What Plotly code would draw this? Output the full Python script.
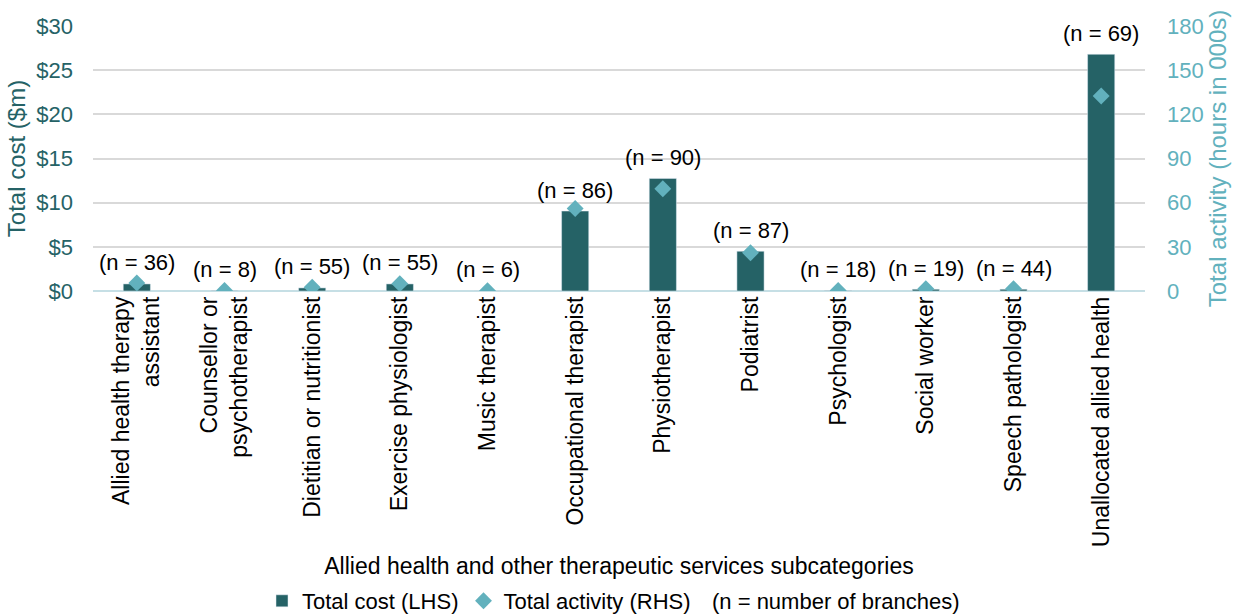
import plotly.graph_objects as go

# Subcategories along the x axis
categories = [
    "Allied health therapy<br>assistant",
    "Counsellor or<br>psychotherapist",
    "Dietitian or nutritionist",
    "Exercise physiologist",
    "Music therapist",
    "Occupational therapist",
    "Physiotherapist",
    "Podiatrist",
    "Psychologist",
    "Social worker",
    "Speech pathologist",
    "Unallocated allied health",
]
# Total cost, $ millions (left axis)
total_cost_m = [0.8, 0.05, 0.35, 0.8, 0.02, 9.05, 12.75, 4.5, 0.05, 0.2, 0.2, 26.8]
# Total activity, thousands of hours (right axis)
total_activity_k = [5.5, 0.3, 2.5, 5.0, 0.2, 56.0, 69.5, 26.0, 0.3, 1.5, 1.5, 132.5]
# Number of branches per subcategory
branch_counts = [36, 8, 55, 55, 6, 86, 90, 87, 18, 19, 44, 69]

cost_ticks = [0, 5, 10, 15, 20, 25, 30]
cost_tick_text = ["$" + str(v) for v in cost_ticks]
activity_ticks = [0, 30, 60, 90, 120, 150, 180]

W, H = 1241, 615
ML, MR, MT, MB = 93, 96, 26, 324
PW, PH = W - ML - MR, H - MT - MB

BAR = "#256266"
DIAMOND = "#62B1BD"
FONT = "Liberation Sans, Arial, sans-serif"
FS = 22        # value labels, y tick labels, legend
FS_X = 23      # category labels and x title
FS_TITLE = 24  # y axis titles

fig = go.Figure()
fig.add_trace(go.Bar(
    x=categories, y=total_cost_m, name="Total cost (LHS)",
    marker=dict(color=BAR), yaxis="y",
))
fig.add_trace(go.Scatter(
    x=categories, y=total_activity_k, name="Total activity (RHS)",
    mode="markers", yaxis="y2",
    marker=dict(symbol="diamond", size=13, color=DIAMOND),
))

# "(n = ...)" labels above each bar
for cat, cost, n in zip(categories, total_cost_m, branch_counts):
    fig.add_annotation(
        x=cat, y=cost, xref="x", yref="y", yanchor="middle",
        yshift=21, text=f"(n = {n})", showarrow=False,
        font=dict(size=FS, color="#000000", family=FONT),
    )

# note at the end of the legend row
fig.add_annotation(
    xref="paper", yref="paper",
    x=(710 - ML) / PW, y=(H - MB - 601) / PH,
    xanchor="left", yanchor="middle", showarrow=False,
    text="(n = number of branches)",
    font=dict(size=FS, color="#000000", family=FONT),
)

fig.update_layout(
    width=W, height=H,
    margin=dict(l=ML, r=MR, t=MT, b=MB, autoexpand=False),
    paper_bgcolor="white", plot_bgcolor="white",
    font=dict(family=FONT, size=FS, color="#000000"),
    bargap=0.69,
    showlegend=True,
    legend=dict(
        orientation="h", xref="container", yref="container",
        x=262 / W, y=1 - 601 / H, xanchor="left", yanchor="middle",
        font=dict(size=FS, family=FONT, color="#000000"),
        itemwidth=30, tracegroupgap=0, bgcolor="rgba(0,0,0,0)",
    ),
    xaxis=dict(
        range=[-0.5, len(categories) - 0.5],
        tickangle=-90, showgrid=False, showline=False, ticks="",
        tickfont=dict(size=FS_X, color="#000000"),
        title=dict(text="Allied health and other therapeutic services subcategories",
                   font=dict(size=FS_X, color="#000000"), standoff=11),
        automargin=False,
    ),
    yaxis=dict(
        range=[0, 30], tickvals=cost_ticks, ticktext=cost_tick_text,
        showgrid=True, gridcolor="#D9D9D9", gridwidth=1.5,
        zeroline=True, zerolinecolor="#C6DFE5", zerolinewidth=1.5,
        showline=False, ticks="", ticklabelstandoff=19,
        tickfont=dict(size=FS, color=BAR),
        title=dict(text="Total cost ($m)", font=dict(size=FS_TITLE, color=BAR), standoff=3),
        automargin=False,
    ),
    yaxis2=dict(
        overlaying="y", side="right", range=[0, 180], tickvals=activity_ticks,
        showgrid=False, zeroline=False, showline=False, ticks="",
        ticklabelstandoff=21,
        tickfont=dict(size=FS, color=DIAMOND),
        title=dict(text="Total activity (hours in 000s)", font=dict(size=FS_TITLE, color=DIAMOND), standoff=5),
        automargin=False,
    ),
)

fig.write_html("out.html")
